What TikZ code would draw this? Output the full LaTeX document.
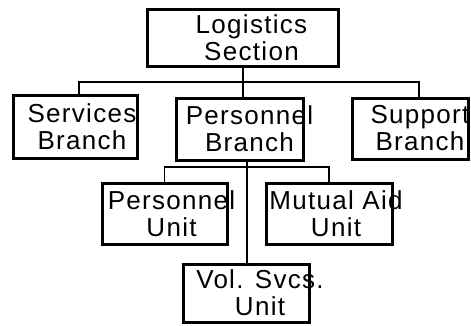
\documentclass[tikz,border=0pt]{standalone}
\usepackage{fontspec}
\setmainfont{Liberation Sans}[LetterSpace=5]
\begin{document}
\begin{tikzpicture}[x=1pt,y=-1pt,
  box/.style={draw=black,line width=3pt,fill=white,inner sep=0pt,rectangle},
  lbl/.style={font=\fontsize{26}{27}\selectfont,align=center,inner sep=0pt},
  conn/.style={draw=black,line width=2pt},
  thinconn/.style={draw=black,line width=1.3pt}]
\useasboundingbox (0,0) rectangle (471,325);
% boxes
\node[box,minimum width=191pt,minimum height=57pt] (L) at (242.5,37.5) {};
\node[box,minimum width=124pt,minimum height=63pt] (Serv) at (75,126.5) {};
\node[box,minimum width=127pt,minimum height=62pt] (PersB) at (239.5,129) {};
\node[box,minimum width=116pt,minimum height=61pt] (Supp) at (410,128.5) {};
\node[box,minimum width=125pt,minimum height=61pt] (PersU) at (164.5,213.5) {};
\node[box,minimum width=126pt,minimum height=61pt] (Mut) at (329,213.5) {};
\node[box,minimum width=126pt,minimum height=58pt] (Vol) at (246,293) {};
% connector helpers
\coordinate (hL) at (79,82);
\coordinate (hR) at (419,82);
\coordinate (v) at (247,160);
\coordinate (h2) at (0,167);
% connectors
\draw[conn] (L.south) -- (L.south |- PersB.north);
\draw[conn] (hL |- Serv.north) -- (hL) -- (hR) -- (hR |- Supp.north);
\draw[conn] (v |- PersB.south) -- (v |- Vol.north);
\draw[thinconn] (PersU.north) -- (PersU.north |- h2) -- (Mut.north |- h2) -- (Mut.north);
% labels
\node[lbl,xshift=9pt] (Lt) at (L) {Logistics\\Section};
\node[lbl,xshift=7pt] (Servt) at (Serv) {Services\\Branch};
\node[lbl,xshift=10pt] (PersBt) at (PersB) {Personnel\\Branch};
\node[lbl,xshift=10pt] (Suppt) at (Supp) {Support\\Branch};
\node[lbl,xshift=7pt] (PersUt) at (PersU) {Personnel\\Unit};
\node[lbl,xshift=7pt] (Mutt) at (Mut) {Mutual Aid\\Unit};
\node[lbl,xshift=14pt] (Volt) at (Vol) {Vol. Svcs.\\Unit};
\end{tikzpicture}
\end{document}
